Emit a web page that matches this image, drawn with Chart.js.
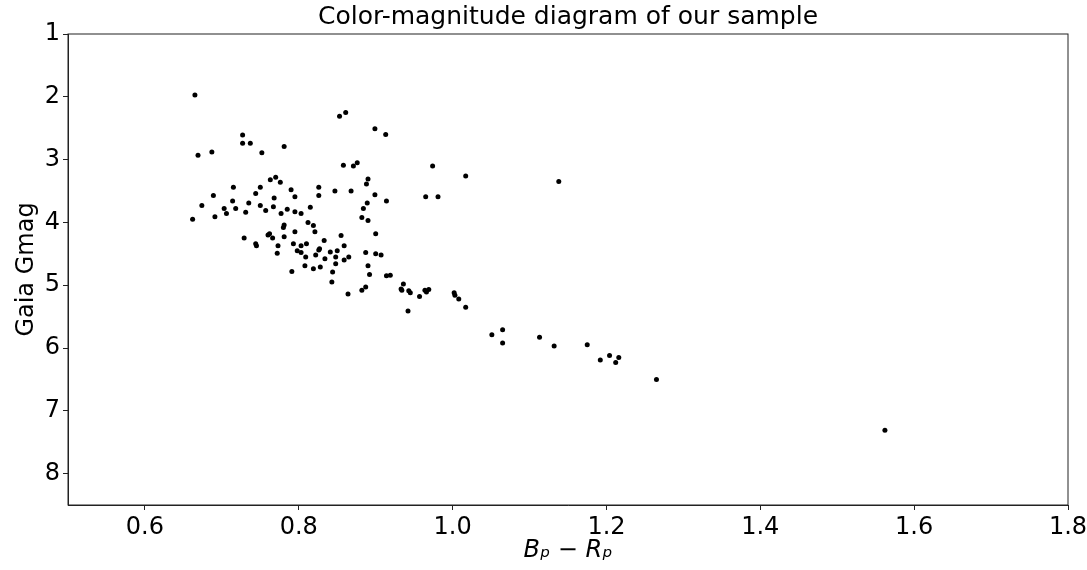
<!DOCTYPE html>
<html lang="en">
  <head>
    <meta charset="UTF-8" />
    <title>Color-magnitude diagram</title>
    <script src="https://cdn.jsdelivr.net/npm/chart.js"></script>
    <style>
      html, body { margin: 0; padding: 0; background: #fff; }
      #wrap { width: 1087px; height: 570px; }
    </style>
  </head>
  <body>
    <div id="wrap">
      <canvas id="cmd"></canvas>
    </div>
    <script>
      // colour index B_p - R_p of each star
      const bpRp = [
        0.665, 0.669, 0.687, 0.727, 0.727, 0.737, 0.752, 0.781, 0.853, 0.861,
        0.899, 0.913, 0.858, 0.871, 0.876, 0.974, 1.017, 1.138, 0.763, 0.770,
        0.776, 0.890, 0.888, 0.715, 0.750, 0.790, 0.826, 0.847, 0.868, 0.689,
        0.744, 0.795, 0.826, 0.899, 0.965, 0.981, 0.714, 0.768, 0.889, 0.914,
        0.674, 0.703, 0.718, 0.735, 0.750, 0.757, 0.767, 0.706, 0.731, 0.785,
        0.795, 0.803, 0.815, 0.777, 0.884, 0.662, 0.691, 0.882, 0.890, 0.812,
        0.819, 0.781, 0.780, 0.821, 0.795, 0.855, 0.900, 0.729, 0.760, 0.762,
        0.766, 0.781, 0.833, 0.744, 0.745, 0.773, 0.793, 0.803, 0.810, 0.859,
        0.798, 0.803, 0.809, 0.772, 0.822, 0.826, 0.827, 0.841, 0.850, 0.848,
        0.834, 0.887, 0.900, 0.907, 0.865, 0.859, 0.848, 0.808, 0.819, 0.828,
        0.890, 0.791, 0.844, 0.892, 0.914, 0.919, 0.843, 0.936, 0.933, 0.934,
        0.943, 0.945, 0.887, 0.882, 0.957, 0.964, 0.966, 0.969, 0.864, 1.002,
        1.003, 1.008, 1.017, 0.942, 1.051, 1.065, 1.065, 1.113, 1.132, 1.175,
        1.192, 1.204, 1.216, 1.212, 1.265, 1.562,
      ];
      // Gaia G magnitude, same order
      const gmag = [
        1.97, 2.93, 2.88, 2.61, 2.74, 2.74, 2.89, 2.79, 2.31, 2.25,
        2.51, 2.60, 3.09, 3.10, 3.05, 3.10, 3.26, 3.35, 3.32, 3.28,
        3.36, 3.31, 3.39, 3.44, 3.44, 3.48, 3.44, 3.50, 3.50, 3.57,
        3.54, 3.59, 3.57, 3.56, 3.59, 3.59, 3.66, 3.61, 3.69, 3.66,
        3.73, 3.78, 3.78, 3.69, 3.73, 3.81, 3.75, 3.86, 3.84, 3.79,
        3.83, 3.86, 3.76, 3.86, 3.78, 3.95, 3.91, 3.92, 3.97, 4.00,
        4.05, 4.04, 4.08, 4.15, 4.15, 4.21, 4.18, 4.25, 4.20, 4.18,
        4.25, 4.23, 4.29, 4.34, 4.37, 4.37, 4.34, 4.37, 4.34, 4.37,
        4.45, 4.48, 4.55, 4.49, 4.52, 4.44, 4.42, 4.47, 4.45, 4.55,
        4.58, 4.48, 4.50, 4.52, 4.55, 4.60, 4.66, 4.69, 4.74, 4.71,
        4.69, 4.78, 4.79, 4.83, 4.85, 4.84, 4.95, 4.98, 5.06, 5.08,
        5.09, 5.12, 5.03, 5.08, 5.18, 5.08, 5.11, 5.07, 5.14, 5.12,
        5.16, 5.22, 5.35, 5.41, 5.79, 5.71, 5.92, 5.83, 5.97, 5.95,
        6.19, 6.12, 6.15, 6.23, 6.50, 7.31,
      ];
      const xTicks = [0.6, 0.8, 1.0, 1.2, 1.4, 1.6, 1.8];
      const yTicks = [1, 2, 3, 4, 5, 6, 7, 8];

      const FONT = "'DejaVu Sans', sans-serif";
      const INK = "#000";

      // matplotlib style closed frame round the plot
      const frame = {
        id: "frame",
        afterDraw(chart) {
          const { ctx, chartArea: a } = chart;
          ctx.save();
          ctx.strokeStyle = "#222";
          ctx.lineWidth = 1;
          ctx.strokeRect(a.left, a.top, a.right - a.left, a.bottom - a.top);
          ctx.restore();
        },
      };

      const axisCommon = {
        type: "linear",
        grid: {
          display: true,
          drawOnChartArea: false,
          drawTicks: true,
          tickLength: 5,
          tickColor: "#222",
        },
        border: { display: true, color: "#222", width: 1 },
      };

      new Chart(document.getElementById("cmd"), {
        type: "scatter",
        data: {
          datasets: [
            {
              data: bpRp.map((x, i) => ({ x: x, y: gmag[i] })),
              backgroundColor: INK,
              borderWidth: 0,
              pointRadius: 2.5,
              pointHoverRadius: 2.5,
            },
          ],
        },
        options: {
          responsive: true,
          maintainAspectRatio: false,
          animation: false,
          layout: { padding: { left: 0, right: 19, top: 0, bottom: 0 } },
          plugins: {
            legend: { display: false },
            tooltip: { enabled: false },
            title: {
              display: true,
              text: "Color-magnitude diagram of our sample",
              color: INK,
              fullSize: false,
              font: { family: FONT, size: 25, weight: "normal" },
              padding: { top: 2.5, bottom: 1.5 },
            },
          },
          scales: {
            x: {
              ...axisCommon,
              min: 0.5,
              max: 1.8,
              afterBuildTicks: (s) => {
                s.ticks = xTicks.map((v) => ({ value: v }));
              },
              afterFit: (s) => {
                s.height = 65;
                // let the last label hang over the edge like matplotlib does
                s.paddingLeft = 0;
                s.paddingRight = 0;
              },
              ticks: {
                color: INK,
                padding: 3,
                font: { family: FONT, size: 24 },
                callback: (v) => Number(v).toFixed(1),
              },
              title: {
                display: true,
                text: "Bₚ − Rₚ",
                color: INK,
                font: { family: FONT, size: 24, style: "italic" },
                padding: { top: 0, bottom: 4.6 },
              },
            },
            y: {
              ...axisCommon,
              reverse: true,
              min: 1,
              max: 8.5,
              afterBuildTicks: (s) => {
                s.ticks = yTicks.map((v) => ({ value: v }));
              },
              afterFit: (s) => {
                s.width = 68;
              },
              ticks: {
                color: INK,
                padding: 3,
                font: { family: FONT, size: 24 },
                callback: (v) => String(v),
              },
              title: {
                display: true,
                text: "Gaia Gmag",
                color: INK,
                font: { family: FONT, size: 24 },
                padding: { top: 12.6, bottom: 0 },
              },
            },
          },
        },
        plugins: [frame],
      });
    </script>
  </body>
</html>
